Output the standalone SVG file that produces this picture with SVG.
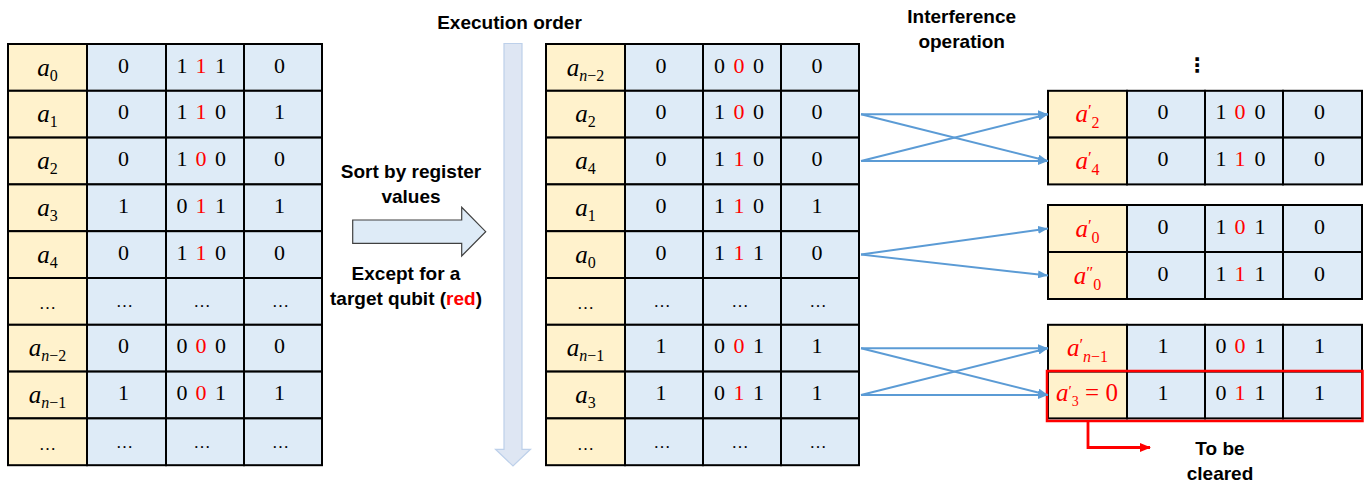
<svg xmlns="http://www.w3.org/2000/svg" width="1369" height="483" viewBox="0 0 1369 483">
<style>
.lab{fill:#FFF2CC;stroke:#000;stroke-width:2}
.dat{fill:#DEEBF7;stroke:#000;stroke-width:2}
.n{font-family:"Liberation Serif","Times New Roman",serif;font-size:22px;text-anchor:middle;fill:#000}
.e{font-family:"Liberation Serif","Times New Roman",serif;font-size:17px;text-anchor:middle;fill:#000}
.v{font-family:"Liberation Serif","Times New Roman",serif;font-style:italic;font-size:25px;text-anchor:middle;fill:#000}
.s{font-size:16px;font-style:normal}
.i{font-style:italic}
.p{font-size:17px;font-style:normal}
.cap{font-family:"Liberation Sans",Arial,sans-serif;font-weight:bold;font-size:19px;text-anchor:middle;fill:#000}
.con{stroke:#5B9BD5;stroke-width:2;fill:none;marker-end:url(#ah)}
.r{fill:#FF0000}
</style>
<defs>
<marker id="ah" markerWidth="10" markerHeight="8" refX="10" refY="4" orient="auto" markerUnits="userSpaceOnUse"><path d="M0,0 L10,4 L0,8 z" fill="#5B9BD5"/></marker>
<marker id="ahr" markerWidth="11" markerHeight="9" refX="10" refY="4.5" orient="auto" markerUnits="userSpaceOnUse"><path d="M0,0 L11,4.5 L0,9 z" fill="#FF0000"/></marker>
</defs>
<rect width="1369" height="483" fill="#fff"/>

<g id="sort-arrow">
<path d="M352.7,220 H461.7 V207.3 L485.7,231.7 L461.7,256 V243.3 H352.7 Z" fill="#DEEBF7" stroke="#404040" stroke-width="1.2"/>
<text class="cap" x="411" y="178">Sort by register</text>
<text class="cap" x="411" y="203">values</text>
<text class="cap" x="406" y="280">Except for a</text>
<text class="cap" x="406" y="305">target qubit (<tspan class="r">red</tspan>)</text>
</g>
<g id="exec-arrow">
<path d="M504,43.5 H522 V449.3 H530.5 L513,466 L495.5,449.3 H504 Z" fill="#DEE6F3" stroke="#BDD0EA" stroke-width="1.2"/>
<text class="cap" x="509.5" y="29.3">Execution order</text>
</g>
<g id="interf-label">
<text class="cap" x="961.7" y="22.5">Interference</text>
<text class="cap" x="961.7" y="48">operation</text>
</g>
<text x="1197" y="72" font-family="DejaVu Sans,sans-serif" font-size="20" text-anchor="middle" font-weight="bold">⋮</text>

<g id="left-table">
<g id="L0"><rect class="lab" x="8" y="44" width="79" height="46.8"/><rect class="dat" x="87" y="44" width="79" height="46.8"/><rect class="dat" x="166" y="44" width="78" height="46.8"/><rect class="dat" x="244" y="44" width="78" height="46.8"/>
<text class="v" x="47.5" y="75.5">a<tspan class="s" dy="5">0</tspan></text><text class="n" x="123.5" y="72.5">0</text><text class="n" x="182" y="72.5">1</text><text class="n r" x="201" y="72.5">1</text><text class="n" x="220.5" y="72.5">1</text><text class="n" x="279.5" y="72.5">0</text></g>
<g id="L1"><rect class="lab" x="8" y="90.8" width="79" height="46.8"/><rect class="dat" x="87" y="90.8" width="79" height="46.8"/><rect class="dat" x="166" y="90.8" width="78" height="46.8"/><rect class="dat" x="244" y="90.8" width="78" height="46.8"/>
<text class="v" x="47.5" y="122.3">a<tspan class="s" dy="5">1</tspan></text><text class="n" x="123.5" y="119.3">0</text><text class="n" x="182" y="119.3">1</text><text class="n r" x="201" y="119.3">1</text><text class="n" x="220.5" y="119.3">0</text><text class="n" x="279.5" y="119.3">1</text></g>
<g id="L2"><rect class="lab" x="8" y="137.6" width="79" height="46.8"/><rect class="dat" x="87" y="137.6" width="79" height="46.8"/><rect class="dat" x="166" y="137.6" width="78" height="46.8"/><rect class="dat" x="244" y="137.6" width="78" height="46.8"/>
<text class="v" x="47.5" y="169.1">a<tspan class="s" dy="5">2</tspan></text><text class="n" x="123.5" y="166.1">0</text><text class="n" x="182" y="166.1">1</text><text class="n r" x="201" y="166.1">0</text><text class="n" x="220.5" y="166.1">0</text><text class="n" x="279.5" y="166.1">0</text></g>
<g id="L3"><rect class="lab" x="8" y="184.4" width="79" height="46.8"/><rect class="dat" x="87" y="184.4" width="79" height="46.8"/><rect class="dat" x="166" y="184.4" width="78" height="46.8"/><rect class="dat" x="244" y="184.4" width="78" height="46.8"/>
<text class="v" x="47.5" y="215.9">a<tspan class="s" dy="5">3</tspan></text><text class="n" x="123.5" y="212.9">1</text><text class="n" x="182" y="212.9">0</text><text class="n r" x="201" y="212.9">1</text><text class="n" x="220.5" y="212.9">1</text><text class="n" x="279.5" y="212.9">1</text></g>
<g id="L4"><rect class="lab" x="8" y="231.2" width="79" height="46.8"/><rect class="dat" x="87" y="231.2" width="79" height="46.8"/><rect class="dat" x="166" y="231.2" width="78" height="46.8"/><rect class="dat" x="244" y="231.2" width="78" height="46.8"/>
<text class="v" x="47.5" y="262.7">a<tspan class="s" dy="5">4</tspan></text><text class="n" x="123.5" y="259.7">0</text><text class="n" x="182" y="259.7">1</text><text class="n r" x="201" y="259.7">1</text><text class="n" x="220.5" y="259.7">0</text><text class="n" x="279.5" y="259.7">0</text></g>
<g id="L5"><rect class="lab" x="8" y="278" width="79" height="46.8"/><rect class="dat" x="87" y="278" width="79" height="46.8"/><rect class="dat" x="166" y="278" width="78" height="46.8"/><rect class="dat" x="244" y="278" width="78" height="46.8"/>
<text class="e" x="47.5" y="309">…</text><text class="e" x="124.5" y="307">…</text><text class="e" x="202" y="307">…</text><text class="e" x="280.5" y="307">…</text></g>
<g id="L6"><rect class="lab" x="8" y="324.8" width="79" height="46.8"/><rect class="dat" x="87" y="324.8" width="79" height="46.8"/><rect class="dat" x="166" y="324.8" width="78" height="46.8"/><rect class="dat" x="244" y="324.8" width="78" height="46.8"/>
<text class="v" x="47.5" y="356.3">a<tspan class="s" dy="5"><tspan class="i">n</tspan>−2</tspan></text><text class="n" x="123.5" y="353.3">0</text><text class="n" x="182" y="353.3">0</text><text class="n r" x="201" y="353.3">0</text><text class="n" x="220.5" y="353.3">0</text><text class="n" x="279.5" y="353.3">0</text></g>
<g id="L7"><rect class="lab" x="8" y="371.6" width="79" height="46.8"/><rect class="dat" x="87" y="371.6" width="79" height="46.8"/><rect class="dat" x="166" y="371.6" width="78" height="46.8"/><rect class="dat" x="244" y="371.6" width="78" height="46.8"/>
<text class="v" x="47.5" y="403.1">a<tspan class="s" dy="5"><tspan class="i">n</tspan>−1</tspan></text><text class="n" x="123.5" y="400.1">1</text><text class="n" x="182" y="400.1">0</text><text class="n r" x="201" y="400.1">0</text><text class="n" x="220.5" y="400.1">1</text><text class="n" x="279.5" y="400.1">1</text></g>
<g id="L8"><rect class="lab" x="8" y="418.4" width="79" height="46.8"/><rect class="dat" x="87" y="418.4" width="79" height="46.8"/><rect class="dat" x="166" y="418.4" width="78" height="46.8"/><rect class="dat" x="244" y="418.4" width="78" height="46.8"/>
<text class="e" x="47.5" y="450">…</text><text class="e" x="124.5" y="448">…</text><text class="e" x="202" y="448">…</text><text class="e" x="280.5" y="448">…</text></g>
</g>

<g id="mid-table">
<g id="M0"><rect class="lab" x="546" y="44" width="79" height="46.8"/><rect class="dat" x="625" y="44" width="78" height="46.8"/><rect class="dat" x="703" y="44" width="78" height="46.8"/><rect class="dat" x="781" y="44" width="78" height="46.8"/>
<text class="v" x="585.5" y="75.5">a<tspan class="s" dy="5"><tspan class="i">n</tspan>−2</tspan></text><text class="n" x="661" y="72.5">0</text><text class="n" x="719.5" y="72.5">0</text><text class="n r" x="739" y="72.5">0</text><text class="n" x="758.5" y="72.5">0</text><text class="n" x="817" y="72.5">0</text></g>
<g id="M1"><rect class="lab" x="546" y="90.8" width="79" height="46.8"/><rect class="dat" x="625" y="90.8" width="78" height="46.8"/><rect class="dat" x="703" y="90.8" width="78" height="46.8"/><rect class="dat" x="781" y="90.8" width="78" height="46.8"/>
<text class="v" x="585.5" y="122.3">a<tspan class="s" dy="5">2</tspan></text><text class="n" x="661" y="119.3">0</text><text class="n" x="719.5" y="119.3">1</text><text class="n r" x="739" y="119.3">0</text><text class="n" x="758.5" y="119.3">0</text><text class="n" x="817" y="119.3">0</text></g>
<g id="M2"><rect class="lab" x="546" y="137.6" width="79" height="46.8"/><rect class="dat" x="625" y="137.6" width="78" height="46.8"/><rect class="dat" x="703" y="137.6" width="78" height="46.8"/><rect class="dat" x="781" y="137.6" width="78" height="46.8"/>
<text class="v" x="585.5" y="169.1">a<tspan class="s" dy="5">4</tspan></text><text class="n" x="661" y="166.1">0</text><text class="n" x="719.5" y="166.1">1</text><text class="n r" x="739" y="166.1">1</text><text class="n" x="758.5" y="166.1">0</text><text class="n" x="817" y="166.1">0</text></g>
<g id="M3"><rect class="lab" x="546" y="184.4" width="79" height="46.8"/><rect class="dat" x="625" y="184.4" width="78" height="46.8"/><rect class="dat" x="703" y="184.4" width="78" height="46.8"/><rect class="dat" x="781" y="184.4" width="78" height="46.8"/>
<text class="v" x="585.5" y="215.9">a<tspan class="s" dy="5">1</tspan></text><text class="n" x="661" y="212.9">0</text><text class="n" x="719.5" y="212.9">1</text><text class="n r" x="739" y="212.9">1</text><text class="n" x="758.5" y="212.9">0</text><text class="n" x="817" y="212.9">1</text></g>
<g id="M4"><rect class="lab" x="546" y="231.2" width="79" height="46.8"/><rect class="dat" x="625" y="231.2" width="78" height="46.8"/><rect class="dat" x="703" y="231.2" width="78" height="46.8"/><rect class="dat" x="781" y="231.2" width="78" height="46.8"/>
<text class="v" x="585.5" y="262.7">a<tspan class="s" dy="5">0</tspan></text><text class="n" x="661" y="259.7">0</text><text class="n" x="719.5" y="259.7">1</text><text class="n r" x="739" y="259.7">1</text><text class="n" x="758.5" y="259.7">1</text><text class="n" x="817" y="259.7">0</text></g>
<g id="M5"><rect class="lab" x="546" y="278" width="79" height="46.8"/><rect class="dat" x="625" y="278" width="78" height="46.8"/><rect class="dat" x="703" y="278" width="78" height="46.8"/><rect class="dat" x="781" y="278" width="78" height="46.8"/>
<text class="e" x="585.5" y="309">…</text><text class="e" x="662" y="307">…</text><text class="e" x="740" y="307">…</text><text class="e" x="818" y="307">…</text></g>
<g id="M6"><rect class="lab" x="546" y="324.8" width="79" height="46.8"/><rect class="dat" x="625" y="324.8" width="78" height="46.8"/><rect class="dat" x="703" y="324.8" width="78" height="46.8"/><rect class="dat" x="781" y="324.8" width="78" height="46.8"/>
<text class="v" x="585.5" y="356.3">a<tspan class="s" dy="5"><tspan class="i">n</tspan>−1</tspan></text><text class="n" x="661" y="353.3">1</text><text class="n" x="719.5" y="353.3">0</text><text class="n r" x="739" y="353.3">0</text><text class="n" x="758.5" y="353.3">1</text><text class="n" x="817" y="353.3">1</text></g>
<g id="M7"><rect class="lab" x="546" y="371.6" width="79" height="46.8"/><rect class="dat" x="625" y="371.6" width="78" height="46.8"/><rect class="dat" x="703" y="371.6" width="78" height="46.8"/><rect class="dat" x="781" y="371.6" width="78" height="46.8"/>
<text class="v" x="585.5" y="403.1">a<tspan class="s" dy="5">3</tspan></text><text class="n" x="661" y="400.1">1</text><text class="n" x="719.5" y="400.1">0</text><text class="n r" x="739" y="400.1">1</text><text class="n" x="758.5" y="400.1">1</text><text class="n" x="817" y="400.1">1</text></g>
<g id="M8"><rect class="lab" x="546" y="418.4" width="79" height="46.8"/><rect class="dat" x="625" y="418.4" width="78" height="46.8"/><rect class="dat" x="703" y="418.4" width="78" height="46.8"/><rect class="dat" x="781" y="418.4" width="78" height="46.8"/>
<text class="e" x="585.5" y="450">…</text><text class="e" x="662" y="448">…</text><text class="e" x="740" y="448">…</text><text class="e" x="818" y="448">…</text></g>
</g>

<g id="right-table-1">
<g id="R1a"><rect class="lab" x="1048" y="90.8" width="79" height="46.8"/><rect class="dat" x="1127" y="90.8" width="78" height="46.8"/><rect class="dat" x="1205" y="90.8" width="78" height="46.8"/><rect class="dat" x="1283" y="90.8" width="79" height="46.8"/>
<text class="v r" x="1087.5" y="122.3">a<tspan class="p" dy="-6">′</tspan><tspan class="s" dy="12">2</tspan></text><text class="n" x="1163" y="119.3">0</text><text class="n" x="1221" y="119.3">1</text><text class="n r" x="1240" y="119.3">0</text><text class="n" x="1260" y="119.3">0</text><text class="n" x="1319.5" y="119.3">0</text></g>
<g id="R1b"><rect class="lab" x="1048" y="137.6" width="79" height="46.8"/><rect class="dat" x="1127" y="137.6" width="78" height="46.8"/><rect class="dat" x="1205" y="137.6" width="78" height="46.8"/><rect class="dat" x="1283" y="137.6" width="79" height="46.8"/>
<text class="v r" x="1087.5" y="169.1">a<tspan class="p" dy="-6">′</tspan><tspan class="s" dy="12">4</tspan></text><text class="n" x="1163" y="166.1">0</text><text class="n" x="1221" y="166.1">1</text><text class="n r" x="1240" y="166.1">1</text><text class="n" x="1260" y="166.1">0</text><text class="n" x="1319.5" y="166.1">0</text></g>
</g>
<g id="right-table-2">
<g id="R2a"><rect class="lab" x="1048" y="205" width="79" height="47"/><rect class="dat" x="1127" y="205" width="78" height="47"/><rect class="dat" x="1205" y="205" width="78" height="47"/><rect class="dat" x="1283" y="205" width="79" height="47"/>
<text class="v r" x="1087.5" y="236.5">a<tspan class="p" dy="-6">′</tspan><tspan class="s" dy="12">0</tspan></text><text class="n" x="1163" y="233.5">0</text><text class="n" x="1221" y="233.5">1</text><text class="n r" x="1240" y="233.5">0</text><text class="n" x="1260" y="233.5">1</text><text class="n" x="1319.5" y="233.5">0</text></g>
<g id="R2b"><rect class="lab" x="1048" y="252" width="79" height="47"/><rect class="dat" x="1127" y="252" width="78" height="47"/><rect class="dat" x="1205" y="252" width="78" height="47"/><rect class="dat" x="1283" y="252" width="79" height="47"/>
<text class="v r" x="1087.5" y="283.5">a<tspan class="p" dy="-6">″</tspan><tspan class="s" dy="12">0</tspan></text><text class="n" x="1163" y="280.5">0</text><text class="n" x="1221" y="280.5">1</text><text class="n r" x="1240" y="280.5">1</text><text class="n" x="1260" y="280.5">1</text><text class="n" x="1319.5" y="280.5">0</text></g>
</g>
<g id="right-table-3">
<g id="R3a"><rect class="lab" x="1048" y="324.8" width="79" height="46.8"/><rect class="dat" x="1127" y="324.8" width="78" height="46.8"/><rect class="dat" x="1205" y="324.8" width="78" height="46.8"/><rect class="dat" x="1283" y="324.8" width="79" height="46.8"/>
<text class="v r" x="1087.5" y="356.3">a<tspan class="p" dy="-6">′</tspan><tspan class="s" dy="12"><tspan class="i">n</tspan>−1</tspan></text><text class="n" x="1163" y="353.3">1</text><text class="n" x="1221" y="353.3">0</text><text class="n r" x="1240" y="353.3">0</text><text class="n" x="1260" y="353.3">1</text><text class="n" x="1319.5" y="353.3">1</text></g>
<g id="R3b"><rect class="lab" x="1048" y="371.6" width="79" height="46.8"/><rect class="dat" x="1127" y="371.6" width="78" height="46.8"/><rect class="dat" x="1205" y="371.6" width="78" height="46.8"/><rect class="dat" x="1283" y="371.6" width="79" height="46.8"/>
<text class="v r" x="1087" y="401" font-size="21">a<tspan font-size="15" font-style="normal" dy="-5">′</tspan><tspan font-size="14" font-style="normal" dy="10">3</tspan><tspan font-style="normal" dy="-5"> = 0</tspan></text><text class="n" x="1163" y="400.1">1</text><text class="n" x="1221" y="400.1">0</text><text class="n r" x="1240" y="400.1">1</text><text class="n" x="1260" y="400.1">1</text><text class="n" x="1319.5" y="400.1">1</text></g>
<rect x="1047" y="371" width="315.5" height="50" fill="none" stroke="#FF0000" stroke-width="2.5"/>
</g>

<g id="connectors">
<line class="con" x1="861" y1="114.2" x2="1048" y2="114.2"/>
<line class="con" x1="861" y1="114.2" x2="1048" y2="161"/>
<line class="con" x1="861" y1="161" x2="1048" y2="114.2"/>
<line class="con" x1="861" y1="161" x2="1048" y2="161"/>
<line class="con" x1="861" y1="254.6" x2="1048" y2="228.5"/>
<line class="con" x1="861" y1="254.6" x2="1048" y2="275.5"/>
<line class="con" x1="861" y1="348.2" x2="1048" y2="348.2"/>
<line class="con" x1="861" y1="348.2" x2="1048" y2="395"/>
<line class="con" x1="861" y1="395" x2="1048" y2="348.2"/>
<line class="con" x1="861" y1="395" x2="1048" y2="395"/>
<path d="M1088,422 V447.5 H1150" fill="none" stroke="#FF0000" stroke-width="2.8" marker-end="url(#ahr)"/>
</g>
<g id="clear-label">
<text class="cap" x="1220" y="455">To be</text>
<text class="cap" x="1220" y="480">cleared</text>
</g>
</svg>
